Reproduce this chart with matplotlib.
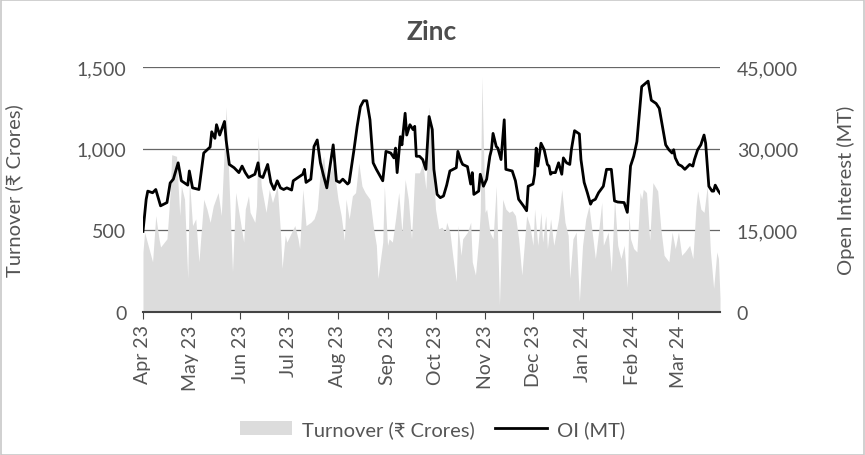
import matplotlib
matplotlib.use("Agg")
import matplotlib.pyplot as plt
import matplotlib.dates as mdates
from matplotlib.patches import Rectangle, Patch
from matplotlib.lines import Line2D
from matplotlib.ticker import FuncFormatter
import pandas as pd

plt.rcParams['font.family'] = ['Lato', 'DejaVu Sans']

# days counted from 1 Apr 2023
start_date = "2023-04-01"

turnover_days = [0, 1, 6, 8, 10, 11, 15, 17, 18, 21, 23, 24, 26, 28, 29, 31, 33, 35,
                 38, 40, 42, 44, 47, 49, 52, 56, 58, 60, 63, 64, 66, 67, 70, 71, 72,
                 74, 77, 79, 81, 84, 86, 87, 89, 90, 93, 95, 97, 98, 100, 102, 105,
                 107, 109, 111, 113, 115, 119, 122, 124, 126, 127, 129, 131, 133, 135,
                 137, 139, 142, 144, 146, 147, 150, 151, 153, 154, 156, 158, 160, 162,
                 164, 166, 168, 170, 173, 175, 177, 179, 182, 183, 185, 187, 189, 190,
                 192, 194, 196, 197, 199, 200, 203, 205, 206, 208, 210, 211, 212, 214,
                 215, 217, 219, 221, 223, 225, 227, 229, 231, 233, 235, 237, 240, 242,
                 244, 245, 247, 249, 250, 252, 253, 255, 257, 260, 262, 264, 266, 267,
                 269, 271, 273, 275, 277, 279, 282, 283, 285, 287, 288, 291, 293, 295,
                 297, 299, 301, 303, 304, 305, 307, 309, 311, 312, 313, 315, 317, 319,
                 322, 324, 326, 329, 331, 333, 335, 337, 339, 342, 344, 346, 347, 349,
                 351, 353, 355, 357, 359, 360, 361]
turnover = [368, 489, 307, 590, 448, 398, 448, 731, 963, 953, 590, 771, 690, 206, 812,
            529, 570, 307, 690, 630, 549, 650, 731, 590, 1256, 246, 731, 610, 428, 630,
            711, 610, 549, 650, 1075, 771, 610, 751, 670, 771, 489, 267, 469, 428, 489,
            529, 448, 388, 751, 529, 549, 570, 630, 873, 953, 771, 913, 690, 590, 438,
            690, 570, 711, 731, 913, 771, 731, 690, 529, 408, 206, 428, 771, 408, 448,
            428, 570, 731, 489, 812, 690, 448, 852, 852, 913, 751, 1256, 812, 630, 509,
            519, 489, 549, 489, 327, 186, 529, 347, 448, 489, 549, 307, 226, 448, 610,
            1440, 610, 630, 489, 448, 771, 44, 690, 630, 610, 620, 590, 448, 226, 590,
            529, 408, 630, 408, 610, 428, 590, 388, 570, 408, 570, 751, 549, 469, 206,
            448, 489, 65, 408, 570, 650, 408, 327, 489, 671, 408, 489, 246, 690, 408,
            327, 408, 150, 600, 448, 388, 368, 731, 690, 751, 731, 438, 792, 741, 509,
            347, 307, 489, 388, 489, 347, 368, 408, 327, 650, 741, 630, 610, 771, 368,
            145, 368, 327, 85]

oi_days = [0, 2, 3, 6, 8, 11, 15, 17, 19, 22, 24, 28, 29, 31, 35, 38, 42, 43, 45, 46,
           48, 51, 52, 54, 57, 60, 62, 64, 66, 70, 72, 73, 75, 78, 80, 82, 84, 86, 88,
           90, 93, 94, 97, 100, 101, 102, 105, 107, 109, 111, 113, 115, 119, 121, 123,
           125, 128, 129, 132, 134, 136, 138, 140, 142, 144, 146, 150, 152, 155, 157,
           158, 159, 161, 162, 164, 165, 167, 169, 170, 171, 173, 175, 177, 179, 181,
           182, 184, 186, 188, 190, 192, 194, 196, 197, 199, 200, 203, 205, 206, 207,
           210, 211, 213, 215, 217, 218, 219, 221, 222, 224, 226, 227, 231, 233, 235,
           238, 240, 241, 244, 245, 246, 247, 249, 251, 253, 254, 255, 256, 258, 260,
           262, 263, 265, 267, 268, 270, 273, 274, 276, 278, 280, 281, 283, 285, 288,
           290, 293, 295, 297, 301, 303, 305, 307, 309, 312, 314, 316, 318, 321, 323,
           325, 327, 329, 331, 332, 333, 335, 337, 339, 342, 344, 345, 347, 349, 351,
           352, 354, 356, 357, 358, 360, 361]
oi = [14800, 20700, 22200, 21900, 22500, 19500, 20100, 23700, 24400, 27400, 24100,
      23300, 25900, 22800, 22500, 29200, 30300, 33100, 31900, 34400, 32500, 35000,
      31600, 27100, 26500, 25600, 26800, 25600, 24700, 25300, 27400, 25000, 24700,
      27100, 23800, 22500, 24100, 22800, 22500, 22800, 22400, 24100, 24700, 25300,
      26200, 23800, 24400, 30400, 31600, 27400, 25000, 22800, 30700, 24100, 23800,
      24400, 23500, 23800, 29800, 34100, 37700, 38800, 38800, 35300, 27400, 26200,
      24100, 29500, 29200, 28300, 30100, 25600, 32200, 30700, 36500, 32500, 34400,
      33500, 34100, 28600, 28600, 28000, 26200, 35900, 33500, 26200, 21600, 21000,
      21300, 23300, 25900, 26200, 26500, 29500, 27700, 27100, 26700, 23500, 25600,
      21600, 22200, 25300, 23100, 24400, 28600, 29800, 32800, 30400, 30100, 28000,
      35300, 26200, 25900, 24100, 20700, 19500, 18600, 23100, 23500, 25300, 30100,
      26800, 31000, 29800, 27100, 26800, 25300, 25600, 25600, 27400, 25300, 28300,
      27400, 27100, 29800, 33300, 32700, 28000, 23800, 21900, 19800, 20400, 20700,
      21900, 23100, 26200, 26200, 20400, 20200, 20100, 18300, 26800, 28600, 31300,
      41400, 41900, 42400, 38900, 38300, 37400, 34100, 30700, 29800, 29200, 29800,
      28300, 27100, 26800, 26200, 27100, 26800, 28000, 29800, 30700, 32500, 31000,
      23100, 22200, 22200, 23300, 22200, 21800]

left_ticks = [0, 500, 1000, 1500]
right_ticks = [0, 15000, 30000, 45000]

base = pd.Timestamp(start_date)
t_dates = base + pd.to_timedelta(turnover_days, unit="D")
o_dates = base + pd.to_timedelta(oi_days, unit="D")

text_col = "#555555"
fig = plt.figure(figsize=(8.65, 4.56), dpi=100)
ax = fig.add_axes([0.1653, 0.3136, 0.6671, 0.5373])
ax2 = ax.twinx()

ax.fill_between(t_dates, turnover, 0, color="#dcdcdc", lw=0)
ax2.plot(o_dates, oi, color="black", lw=2)

ax.set_ylim(0, 1500)
ax2.set_ylim(0, 45000)
ax.set_yticks(left_ticks)
ax2.set_yticks(right_ticks)
comma = FuncFormatter(lambda v, p: f"{v:,.0f}")
ax.yaxis.set_major_formatter(comma)
ax2.yaxis.set_major_formatter(comma)
ax.set_xlim(base, t_dates[-1])

# grid sits behind the turnover area
for v in left_ticks[1:]:
    ax.axhline(v, color="#666666", lw=0.9, zorder=0.5)

ax.xaxis.set_major_locator(mdates.MonthLocator())
ax.xaxis.set_major_formatter(mdates.DateFormatter("%b %y"))
for lab in ax.get_xticklabels():
    lab.set_rotation(90)

for a in (ax, ax2):
    for s in ("top", "left", "right", "bottom"):
        a.spines[s].set_visible(False)
    a.tick_params(axis="y", length=0, labelsize=14, labelcolor=text_col, pad=12)
ax.spines["bottom"].set_visible(True)
ax.spines["bottom"].set_color("#444444")
ax.spines["bottom"].set_linewidth(1.5)
ax.tick_params(axis="x", length=5, color="#444444", labelsize=14,
               labelcolor=text_col, pad=4)

ax.set_ylabel("Turnover (₹ Crores)", fontsize=14.5, color=text_col)
ax2.set_ylabel("Open Interest (MT)", fontsize=14.5, color=text_col,
               rotation=90)
ax.yaxis.set_label_coords(-0.207, 0.5)
ax2.yaxis.set_label_coords(1.203, 0.5)
ax.set_title("Zinc", fontsize=19, fontweight="bold", color="#4d4d4d", pad=20)

handles = [Patch(facecolor="#dcdcdc", edgecolor="none"),
           Line2D([0], [0], color="black", lw=2)]
fig.legend(handles, ["Turnover (₹ Crores)", "OI (MT)"], loc="center",
           bbox_to_anchor=(0.5, 0.057), ncol=2, frameon=False, fontsize=14.5,
           labelcolor=text_col, handlelength=2.6, columnspacing=1.0,
           handletextpad=0.5)

fig.add_artist(Rectangle((0.001, 0.001), 0.998, 0.996, transform=fig.transFigure,
                         fill=False, edgecolor="#c8c8c8", lw=1.2))

fig.savefig("out.png", dpi=100)
